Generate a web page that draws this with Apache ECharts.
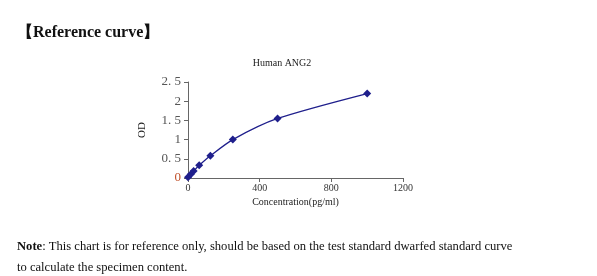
<!DOCTYPE html>
<html><head><meta charset="utf-8">
<script src="https://cdn.jsdelivr.net/npm/echarts@6/dist/echarts.min.js"></script>
<style>html,body{margin:0;padding:0;background:#fff}#c{width:597px;height:276px}</style>
</head><body><div id="c"></div>
<script>
const concentrations = [0, 15.6, 31.25, 62.5, 125, 250, 500, 1000];
const odValues = [0.02, 0.1, 0.18, 0.33, 0.58, 1.0, 1.55, 2.2];
const yTicks = [0, 0.5, 1, 1.5, 2, 2.5];
const xTicks = [0, 400, 800, 1200];

const chart = echarts.init(document.getElementById('c'));
const serif = '"Liberation Serif", "DejaVu Serif", serif';
chart.setOption({
  animation: false,
  backgroundColor: '#fff',
  title: [
    {text: '【Reference curve】', left: 12, top: 20, textStyle: {fontFamily: serif, fontSize: 16, fontWeight: 'bold', color: '#111'}},
    {text: 'Human ANG2', left: 277, top: 53, textAlign: 'center', textStyle: {fontFamily: serif, fontSize: 10, fontWeight: 'normal', color: '#222'}},
    {text: '{b|Note}: This chart is for reference only, should be based on the test standard dwarfed standard curve\nto calculate the specimen content.',
     left: 12, top: 231,
     textStyle: {fontFamily: serif, fontSize: 12.6, fontWeight: 'normal', color: '#111', lineHeight: 21,
       rich: {b: {fontFamily: serif, fontSize: 12.6, fontWeight: 'bold', color: '#111'}}}}
  ],
  grid: {left: 188, right: 194, top: 82, bottom: 98},
  xAxis: {
    type: 'value', min: 0, max: 1200, interval: 400,
    name: 'Concentration(pg/ml)', nameLocation: 'middle', nameGap: 19,
    nameTextStyle: {fontFamily: serif, fontSize: 10, color: '#222'},
    axisLine: {lineStyle: {color: '#666'}},
    axisTick: {show: true, inside: false, length: 4, lineStyle: {color: '#666'}},
    axisLabel: {fontFamily: serif, fontSize: 10, color: '#333', margin: 5, formatter: v => String(v)},
    splitLine: {show: false}
  },
  yAxis: {
    type: 'value', min: 0, max: 2.5, interval: 0.5,
    name: 'OD', nameLocation: 'middle', nameGap: 40, nameRotate: 90,
    nameTextStyle: {fontFamily: serif, fontSize: 11, color: '#222'},
    axisLine: {show: true, lineStyle: {color: '#666'}},
    axisTick: {show: true, inside: false, length: 4, lineStyle: {color: '#666'}},
    axisLabel: {fontFamily: serif, fontSize: 13, color: '#555', margin: 7,
      formatter: v => v === 0 ? '{z|0}' : String(v).replace('.', '. '),
      rich: {z: {color: '#c0502a', fontFamily: serif, fontSize: 13}}},
    splitLine: {show: false}
  },
  series: [{
    type: 'line',
    data: concentrations.map((c, i) => [c, odValues[i]]),
    smooth: 0.25,
    symbol: 'diamond', symbolSize: 8,
    lineStyle: {color: '#1f1f8c', width: 1.3},
    itemStyle: {color: '#1f1f8c'}
  }]
});
</script></body></html>
